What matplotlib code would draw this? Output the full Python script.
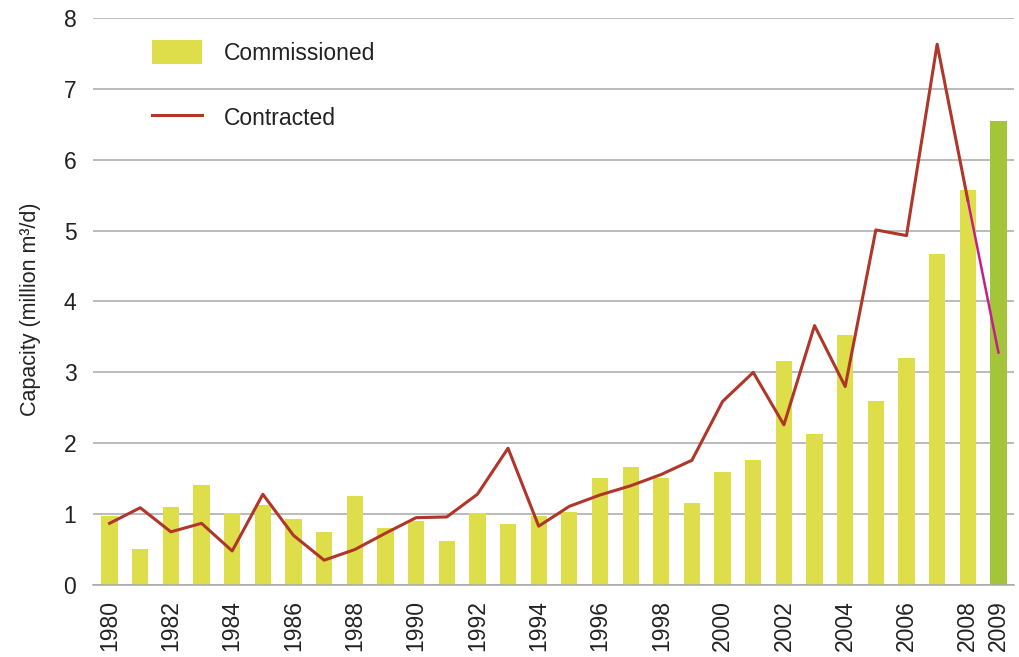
import matplotlib
matplotlib.use("Agg")
import matplotlib.pyplot as plt
from matplotlib.patches import Patch
from matplotlib.lines import Line2D

plt.rcParams['font.family'] = ['Liberation Sans', 'DejaVu Sans']

years = list(range(1980, 2010))
commissioned = [0.97, 0.51, 1.10, 1.41, 1.02, 1.13, 0.93, 0.75, 1.26, 0.80,
                0.90, 0.62, 1.01, 0.86, 0.97, 1.03, 1.51, 1.67, 1.51, 1.16,
                1.60, 1.77, 3.16, 2.13, 3.53, 2.59, 3.20, 4.67, 5.57, 6.55]
contracted = [0.87, 1.09, 0.75, 0.87, 0.48, 1.28, 0.70, 0.35, 0.50, 0.73,
              0.95, 0.96, 1.28, 1.93, 0.83, 1.11, 1.27, 1.40, 1.56, 1.76,
              2.59, 3.00, 2.26, 3.66, 2.80, 5.01, 4.93, 7.63, 5.43, 3.28]
tick_years = [1980, 1982, 1984, 1986, 1988, 1990, 1992, 1994, 1996, 1998,
              2000, 2002, 2004, 2006, 2008, 2009]

YELLOW = '#DEDE4A'
GREEN = '#A4C43A'
RED = '#B0362A'
MAGENTA = '#C41E8C'
GRID = '#A8A8A8'
TEXT = '#222222'

fig = plt.figure(figsize=(10.2, 6.57), dpi=100)
ax = fig.add_axes([0.0912, 0.1096, 0.903, 0.8630])

x = list(range(len(years)))
colors = [YELLOW] * (len(years) - 1) + [GREEN]
ax.bar(x, commissioned, width=0.53, color=colors, zorder=2)
ax.plot(x[:-1], contracted[:-1], color=RED, lw=2.2, zorder=3)
ax.plot(x[-2:], contracted[-2:], color=MAGENTA, lw=1.8, zorder=3)

ax.set_xlim(-0.54, len(years) - 1 + 0.51)
ax.set_ylim(0, 8)
ax.set_yticks(range(0, 9))
ax.yaxis.grid(True, color=GRID, lw=1.1, zorder=0)
ax.set_axisbelow(True)
for s in ['top', 'right', 'left']:
    ax.spines[s].set_visible(False)
ax.spines['bottom'].set_color(GRID)
ax.spines['bottom'].set_linewidth(1.1)
ax.tick_params(axis='y', length=0, pad=12, labelsize=16.5, labelcolor=TEXT)
ax.set_xticks([years.index(t) for t in tick_years])
ax.set_xticklabels([str(t) for t in tick_years], rotation=90)
ax.tick_params(axis='x', length=0, pad=11, labelsize=16.5, labelcolor=TEXT)
ax.set_ylabel('Capacity (million m³/d)', fontsize=15.5, color=TEXT, va='center')
ax.yaxis.set_label_coords(-0.068, 0.487)

handles = [Patch(facecolor=YELLOW, edgecolor='none'),
           Line2D([0], [0], color=RED, lw=2.2)]
leg = ax.legend(handles, ['Commissioned', 'Contracted'], loc='upper left',
                bbox_to_anchor=(0.054, 0.977), borderaxespad=0,
                frameon=False, fontsize=16.5,
                handlelength=2.2, handleheight=1.25, handletextpad=0.95,
                labelspacing=1.75)
for t in leg.get_texts():
    t.set_color(TEXT)

fig.savefig('out.png', dpi=100)
